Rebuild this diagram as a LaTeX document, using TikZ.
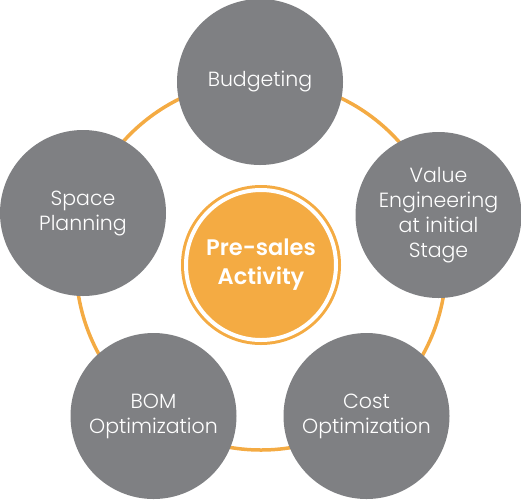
\documentclass[tikz,border=0pt]{standalone}
\usepackage{fontspec}
\setmainfont{Poppins}[UprightFont=* Light, BoldFont=* SemiBold]
\usepackage{tikz}
\usetikzlibrary{positioning}

\definecolor{stepgray}{HTML}{7F8083}
\definecolor{presorange}{HTML}{F4AB43}

\begin{document}
\begin{tikzpicture}[x=1pt,y=-1pt,
    ring/.style={draw=presorange,line width=3.5pt},
    topic/.style={circle,fill=stepgray,minimum size=166pt,inner sep=0pt,
      align=center,text=white,font=\fontsize{20.5}{25}\selectfont},
    hub/.style={circle,fill=presorange,draw=presorange,line width=3pt,
      double=white,double distance=4pt,minimum size=150pt,inner sep=0pt,
      align=center,text=white,font=\bfseries\fontsize{22.5}{29}\selectfont}]
    \useasboundingbox (0,0) rectangle (521,499);

    %outer ring
    \coordinate (c) at (261,265);
    \draw[ring] (c) circle (185pt);

    %centre
    \node[hub] (presales) at (c) {Pre-sales\\Activity};

    %topics round the ring
    \node[topic] (budget) at (260,82) {Budgeting};
    \node[topic] (value) at (438.5,215) {Value\\Engineering\\at initial\\Stage};
    \node[topic] (cost) at (366.5,416) {Cost\\Optimization};
    \node[topic] (bom) at (153.5,416) {BOM\\Optimization};
    \node[topic] (space) at (83,213) {Space\\Planning};
\end{tikzpicture}
\end{document}
